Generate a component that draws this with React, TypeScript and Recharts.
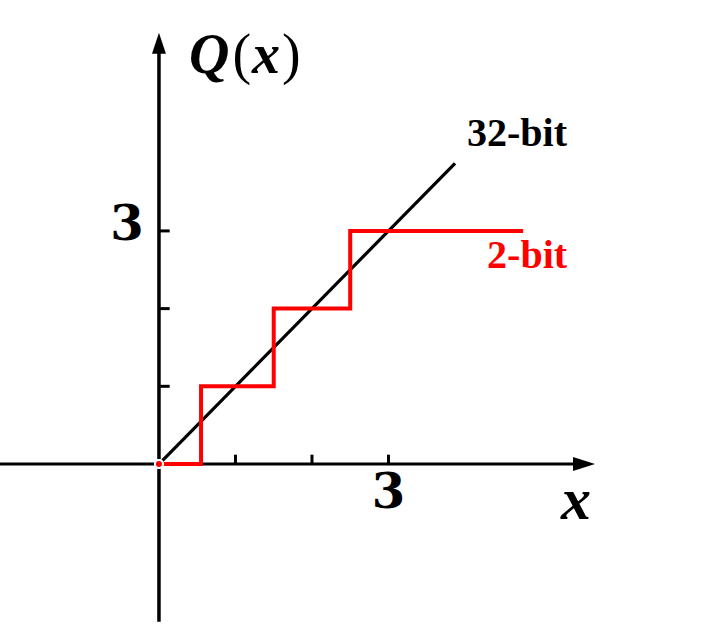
import { ComposedChart, Line, XAxis, YAxis, ReferenceLine, ReferenceDot } from 'recharts';

// values
const linearX = [0, 3.87];
const linearY = [0, 3.87];
const stepX = [0, 0.55, 1.5, 2.5, 4.76];
const stepY = [0, 1, 2, 3, 3];
const tickValues = [1, 2, 3];
const labeledTick = 3;
const label32 = '32-bit';
const label2 = '2-bit';

const fp32 = linearX.map((x, i) => ({ x, y: linearY[i] }));
const int2 = stepX.map((x, i) => ({ x, y: stepY[i] }));

const X_DOMAIN: [number, number] = [-2.078, 7.399];
const Y_DOMAIN: [number, number] = [-2.072, 5.972];
const SERIF = '"Liberation Serif", "Times New Roman", serif';
const HEAVY_SERIF = '"DejaVu Serif", serif';

const ArrowRight = ({ cx, cy }: any) => (
  <polygon points={`${cx},${cy} ${cx - 22},${cy - 7} ${cx - 22},${cy + 7}`} fill="#000" />
);
const ArrowUp = ({ cx, cy }: any) => (
  <polygon points={`${cx},${cy} ${cx - 7},${cy + 21} ${cx + 7},${cy + 21}`} fill="#000" />
);

function textShape(text: string, dx: number, dy: number, opts: any = {}) {
  return ({ cx, cy }: any) => (
    <text
      x={cx + dx}
      y={cy + dy}
      fontFamily={opts.family ?? SERIF}
      fontWeight="bold"
      fontSize={opts.size ?? 40}
      fontStyle={opts.italic ? 'italic' : 'normal'}
      fill={opts.color ?? '#000'}
      textAnchor={opts.anchor ?? 'middle'}
    >
      {text}
    </text>
  );
}

// Q(x) with italic letters and thin upright brackets
const QLabel = ({ cx, cy }: any) => (
  <text x={cx + 30} y={cy + 40} fontFamily={SERIF} fontSize={56} fill="#000">
    <tspan fontWeight="bold" fontStyle="italic">Q</tspan>
    <tspan dx={3}>(</tspan>
    <tspan dx={1} fontWeight="bold" fontStyle="italic">x</tspan>
    <tspan dx={2}>)</tspan>
  </text>
);

export default function App() {
  return (
    <div style={{ position: 'absolute', left: 0, top: 0, background: '#fff' }}>
      <ComposedChart width={725} height={625} margin={{ top: 0, right: 0, bottom: 0, left: 0 }}>
        <XAxis type="number" dataKey="x" domain={X_DOMAIN} allowDataOverflow hide />
        <YAxis type="number" dataKey="y" domain={Y_DOMAIN} allowDataOverflow hide />

        {/* axes through the origin */}
        <ReferenceLine segment={[{ x: -2.08, y: 0 }, { x: 5.5, y: 0 }]} stroke="#000" strokeWidth={3} ifOverflow="visible" />
        <ReferenceLine segment={[{ x: 0, y: -2.03 }, { x: 0, y: 5.35 }]} stroke="#000" strokeWidth={3.5} ifOverflow="visible" />
        <ReferenceDot x={5.7} y={0} r={0} shape={ArrowRight} ifOverflow="visible" />
        <ReferenceDot x={0} y={5.55} r={0} shape={ArrowUp} ifOverflow="visible" />

        {tickValues.map((t) => (
          <ReferenceLine key={'xt' + t} segment={[{ x: t, y: 0 }, { x: t, y: 0.12 }]} stroke="#000" strokeWidth={3} ifOverflow="visible" />
        ))}
        {tickValues.map((t) => (
          <ReferenceLine key={'yt' + t} segment={[{ x: 0, y: t }, { x: 0.14, y: t }]} stroke="#000" strokeWidth={3} ifOverflow="visible" />
        ))}

        <Line data={fp32} dataKey="y" type="linear" stroke="#000" strokeWidth={3.2} dot={false} isAnimationActive={false} />
        <Line data={int2} dataKey="y" type="stepAfter" stroke="#ff0000" strokeWidth={4} dot={false} isAnimationActive={false} />

        <ReferenceDot x={labeledTick} y={0} r={0} shape={textShape(String(labeledTick), 0, 44, { size: 48, family: HEAVY_SERIF })} ifOverflow="visible" />
        <ReferenceDot x={0} y={labeledTick} r={0} shape={textShape(String(labeledTick), -32, 9, { size: 48, family: HEAVY_SERIF })} ifOverflow="visible" />
        <ReferenceDot x={linearX[1]} y={linearY[1]} r={0} shape={textShape(label32, 112, -17, { anchor: 'end' })} ifOverflow="visible" />
        <ReferenceDot x={stepX[4]} y={stepY[4]} r={0} shape={textShape(label2, 44, 37, { anchor: 'end', color: '#ff0000' })} ifOverflow="visible" />
        <ReferenceDot x={0} y={5.55} r={0} shape={QLabel} ifOverflow="visible" />
        <ReferenceDot x={5.7} y={0} r={0} shape={textShape('x', -19, 55, { italic: true, size: 60 })} ifOverflow="visible" />
      </ComposedChart>
    </div>
  );
}
